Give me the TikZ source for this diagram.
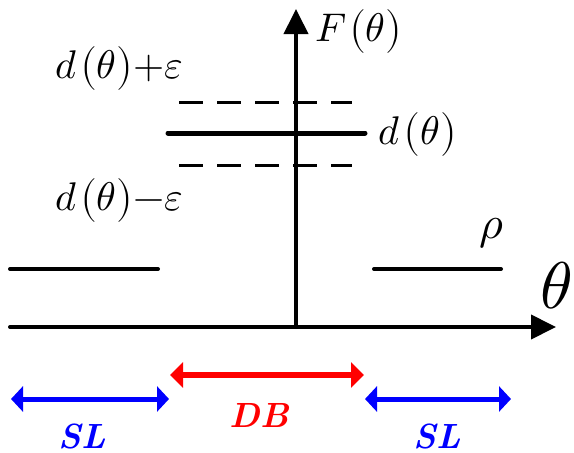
\documentclass[tikz,border=0pt]{standalone}
\usepackage{unicode-math}
\usetikzlibrary{arrows.meta}
\newcommand{\dth}{d\hspace{0.08em}\bigl(θ\bigr)}
\begin{document}
\begin{tikzpicture}[x=1pt,y=-1pt,
  axis/.style={line width=4pt, line cap=round, -{Triangle[length=25pt,width=24pt]}},
  lvl/.style={line width=4pt, line cap=round},
  dlvl/.style={line width=5pt, line cap=round},
  tol/.style={line width=3pt, dash pattern=on 24pt off 14pt},
  redarr/.style={line width=6pt, red, {Triangle[length=13pt,width=25pt]}-{Triangle[length=13pt,width=25pt]}},
  bluearr/.style={line width=5pt, blue, {Triangle[length=12pt,width=25pt]}-{Triangle[length=12pt,width=25pt]}},
  lbl/.style={inner sep=0pt, font=\fontsize{40}{40}\selectfont},
  tag/.style={inner sep=0pt, font=\fontsize{35}{35}\selectfont\bfseries\itshape}]
\useasboundingbox (0,0) rectangle (574,453);
% axes
\coordinate (xs) at (10,327); \coordinate (xe) at (556,327);
\coordinate (ys) at (296,327); \coordinate (ye) at (296,9);
\draw[axis] (xs) -- (xe);
\draw[axis] (ys) -- (ye);
% levels
\coordinate (da) at (168,133); \coordinate (db) at (365,133);
\draw[dlvl] (da) -- (db);
\coordinate (ua) at (179,102); \coordinate (ub) at (352,102);
\coordinate (la) at (179,165); \coordinate (lb) at (352,165);
\draw[tol] (ua) -- (ub);
\draw[tol] (la) -- (lb);
\coordinate (ra) at (10,269); \coordinate (rb) at (158,269);
\coordinate (rc) at (374,269); \coordinate (rd) at (501,269);
\draw[lvl] (ra) -- (rb);
\draw[lvl] (rc) -- (rd);
% ranges
\coordinate (dba) at (170,375); \coordinate (dbb) at (364,375);
\draw[redarr] (dba) -- (dbb);
\coordinate (sla) at (11,399); \coordinate (slb) at (169,399);
\coordinate (slc) at (365,399); \coordinate (sld) at (511,399);
\draw[bluearr] (sla) -- (slb);
\draw[bluearr] (slc) -- (sld);
% labels
\node[lbl] (F) at (359,31) {$F\hspace{0.05em}\bigl(θ\bigr)$};
\node[lbl] (dr) at (418,134) {$\dth$};
\node[lbl] (dp) at (119,68) {$\dth{+}ε$};
\node[lbl] (dm) at (119,200) {$\dth{-}ε$};
\node[inner sep=0pt, font=\fontsize{46}{46}\selectfont] (rho) at (492,233) {$ρ$};
\node[inner sep=0pt, font=\fontsize{66}{66}\selectfont] (th) at (556,286) {$θ$};
\node[tag, blue] (sl1) at (82,436) {SL};
\node[tag, blue] (sl2) at (437,436) {SL};
\node[tag, red] (dbl) at (259,415) {DB};
\end{tikzpicture}
\end{document}
